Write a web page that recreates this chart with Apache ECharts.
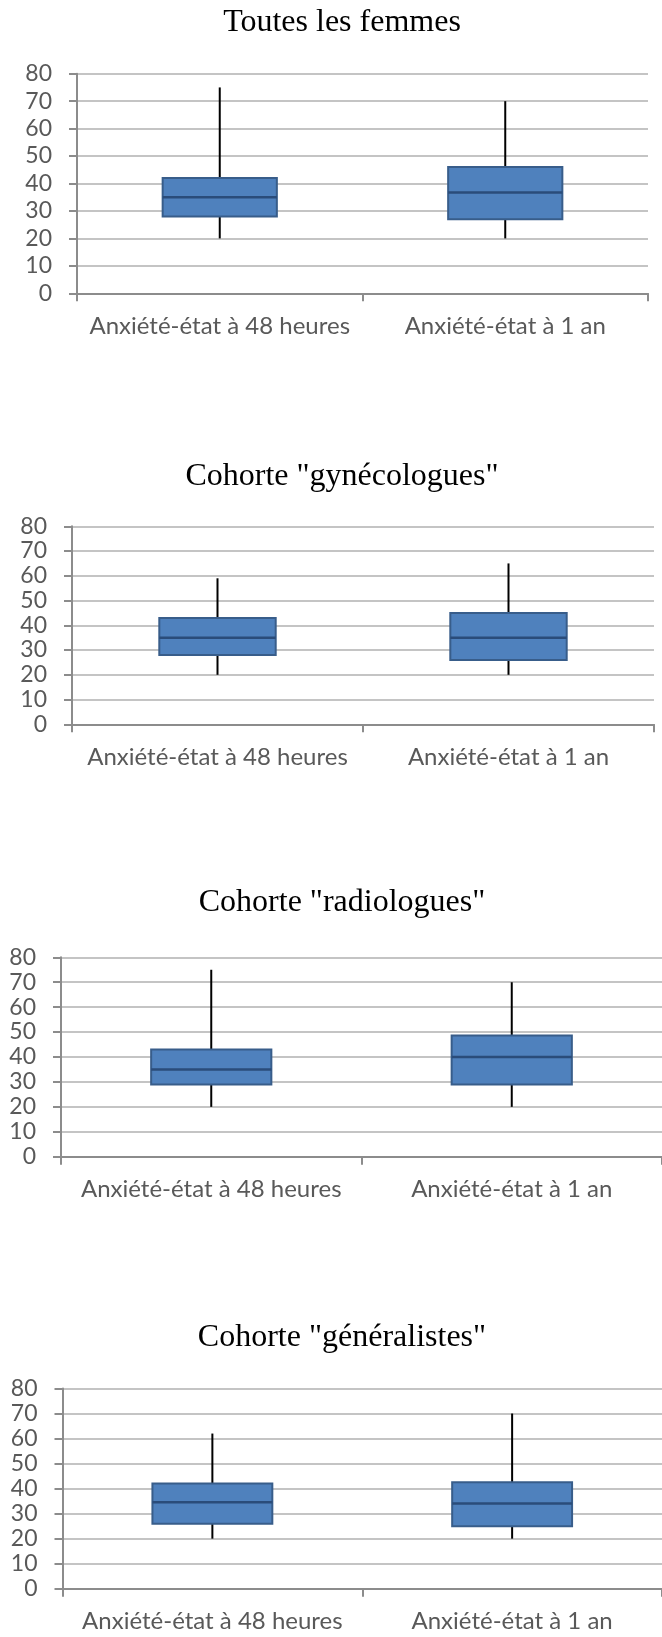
<!DOCTYPE html>
<html>
<head>
<meta charset="utf-8">
<script src="https://cdn.jsdelivr.net/npm/echarts@6/dist/echarts.min.js"></script>
<style>
html,body{margin:0;padding:0;background:#fff;}
#c{width:662px;height:1637px;}
</style>
</head>
<body>
<div id="c"></div>
<script>
// ---- data ----
const categories = ['Anxiété-état à 48 heures', 'Anxiété-état à 1 an'];
const chartTitles = ['Toutes les femmes', 'Cohorte "gynécologues"', 'Cohorte "radiologues"', 'Cohorte "généralistes"'];
const yTickValues = [0, 10, 20, 30, 40, 50, 60, 70, 80];
// [min, Q1, median, Q3, max]
const toutesLesFemmes = [[20, 28, 35, 42, 75], [20, 27, 36.7, 46, 70]];
const gynecologues    = [[20, 28, 35, 43, 59], [20, 26, 35, 45, 65]];
const radiologues     = [[20, 29, 35, 43, 75], [20, 29, 40, 48.6, 70]];
const generalistes    = [[20, 26, 34.5, 42, 62], [20, 25, 34, 42.5, 70]];
const allSeries = [toutesLesFemmes, gynecologues, radiologues, generalistes];

// ---- layout ----
const grids = [
  {left: 77, right: 14, top: 73.7, height: 219.6},
  {left: 72, right: 8, top: 526.3, height: 198},
  {left: 61, right: -5, top: 957.3, height: 199.4},
  {left: 62.5, right: -3, top: 1388.5, height: 200.2}
];
const titleCenters = [22.5, 476.7, 902.5, 1338];

const textColor = '#595959';
const labelFont = 'Lato, "Open Sans", sans-serif';

function renderItem(params, api) {
  const x = api.value(0);
  const lo = api.coord([x, api.value(1)]);
  const q1 = api.coord([x, api.value(2)]);
  const med = api.coord([x, api.value(3)]);
  const q3 = api.coord([x, api.value(4)]);
  const hi = api.coord([x, api.value(5)]);
  const w = api.size([1, 0])[0] * 0.40;
  const cx = lo[0];
  return {
    type: 'group',
    children: [
      {type: 'line', shape: {x1: cx, y1: hi[1], x2: cx, y2: lo[1]},
       style: {stroke: '#000', lineWidth: 2}},
      {type: 'rect', shape: {x: cx - w / 2, y: q3[1], width: w, height: q1[1] - q3[1]},
       style: {fill: '#4f81bd', stroke: '#385d8a', lineWidth: 2}},
      {type: 'line', shape: {x1: cx - w / 2, y1: med[1], x2: cx + w / 2, y2: med[1]},
       style: {stroke: '#2a4c7a', lineWidth: 2.5}}
    ]
  };
}

const option = {
  animation: false,
  backgroundColor: '#fff',
  title: chartTitles.map((t, i) => ({
    text: t,
    left: 342,
    top: titleCenters[i] - 16,
    textAlign: 'center',
    padding: 0,
    textStyle: {fontFamily: '"Liberation Serif", "Times New Roman", serif', fontSize: 32, fontWeight: 'normal', color: '#000'}
  })),
  grid: grids.map(g => Object.assign({containLabel: false}, g)),
  xAxis: grids.map((g, i) => ({
    type: 'category',
    gridIndex: i,
    data: categories,
    boundaryGap: true,
    axisLine: {lineStyle: {color: '#8c8c8c', width: 2}},
    axisTick: {show: true, length: 8, alignWithLabel: false, lineStyle: {color: '#8c8c8c', width: 2}},
    axisLabel: {color: textColor, fontFamily: labelFont, fontSize: 24, margin: 21, interval: 0}
  })),
  yAxis: grids.map((g, i) => ({
    type: 'value',
    gridIndex: i,
    min: yTickValues[0],
    max: yTickValues[yTickValues.length - 1],
    interval: 10,
    axisLine: {show: true, lineStyle: {color: '#8c8c8c', width: 2}},
    axisTick: {show: true, length: 8, lineStyle: {color: '#8c8c8c', width: 2}},
    splitLine: {show: true, lineStyle: {color: '#c4c4c4', width: 2}},
    axisLabel: {color: textColor, fontFamily: labelFont, fontSize: 23, margin: 25}
  })),
  series: allSeries.map((s, i) => ({
    type: 'custom',
    xAxisIndex: i,
    yAxisIndex: i,
    renderItem: renderItem,
    encode: {x: 0, y: [1, 2, 3, 4, 5]},
    data: s.map((v, k) => [k].concat(v)),
    z: 10
  }))
};

const chart = echarts.init(document.getElementById('c'), null, {renderer: 'canvas'});
chart.setOption(option);
</script>
</body>
</html>
